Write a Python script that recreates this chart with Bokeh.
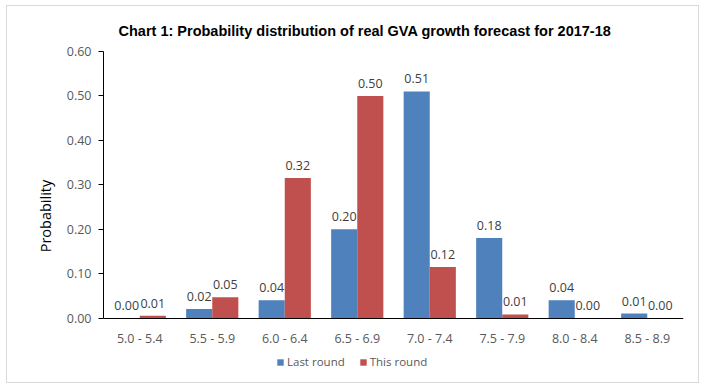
from bokeh.plotting import figure
from bokeh.models import ColumnDataSource, FactorRange, Range1d, LabelSet, Legend, LegendItem, NumeralTickFormatter, FixedTicker
from bokeh.core.properties import value
from bokeh.transform import dodge
from bokeh.embed import file_html
from bokeh.resources import INLINE

categories = ["5.0 - 5.4", "5.5 - 5.9", "6.0 - 6.4", "6.5 - 6.9", "7.0 - 7.4", "7.5 - 7.9", "8.0 - 8.4", "8.5 - 8.9"]
last_round = [0.0, 0.02, 0.04, 0.20, 0.51, 0.18, 0.04, 0.01]
this_round = [0.005, 0.047, 0.315, 0.50, 0.115, 0.008, 0.0, 0.0]
y_ticks = [0.0, 0.1, 0.2, 0.3, 0.4, 0.5, 0.6]

BLUE = "#4f81bd"
RED = "#c0504d"
FONT = "Open Sans"

src = ColumnDataSource(dict(
    cat=categories,
    last=last_round,
    this=this_round,
    last_lbl=["%.2f" % v for v in last_round],
    this_lbl=["%.2f" % v for v in this_round],
))

p = figure(x_range=FactorRange(*categories, range_padding=0), y_range=Range1d(-0.1407, 0.6),
           width=693, height=378, output_backend="svg", toolbar_location=None,
           min_border_left=96, min_border_right=17, min_border_top=45, min_border_bottom=4)
p.styles = {"border": "1px solid #d9d9d9", "margin-left": "6px", "margin-top": "5px"}

p.title.text = "Chart 1: Probability distribution of  real GVA growth  forecast for 2017-18"
p.title.align = "left"
p.title.offset = 15
p.title.text_font = "Liberation Sans"
p.title.text_font_size = "14.5px"
p.title.text_font_style = "bold"
p.title.text_color = "#000000"
p.title.standoff = 25

w = 0.36
r1 = p.vbar(x=dodge("cat", -0.18, range=p.x_range), top="last", width=w, source=src,
            fill_color=BLUE, line_color=None)
r2 = p.vbar(x=dodge("cat", 0.18, range=p.x_range), top="this", width=w, source=src,
            fill_color=RED, line_color=None)

for col, off in (("last", -0.18), ("this", 0.18)):
    lbl = LabelSet(x=dodge("cat", off, range=p.x_range), y=col, text=col + "_lbl", source=src,
                   text_align="center", text_baseline="bottom", y_offset=8,
                   text_font=value(FONT), text_font_size="12.5px", text_color="#404040")
    p.add_layout(lbl)

p.xgrid.visible = False
p.ygrid.visible = False
p.outline_line_color = None

p.yaxis.ticker = FixedTicker(ticks=y_ticks)
p.yaxis.bounds = (0, 0.6)
p.yaxis.formatter = NumeralTickFormatter(format="0.00")
p.yaxis.axis_label = "Probability"
p.yaxis.axis_label_text_font = FONT
p.yaxis.axis_label_text_font_size = "14.5px"
p.yaxis.axis_label_text_font_style = "normal"
p.yaxis.axis_label_text_color = "#000000"
p.yaxis.axis_label_standoff = 9
p.yaxis.major_label_text_font = FONT
p.yaxis.major_label_text_font_size = "12.5px"
p.yaxis.major_label_text_color = "#595959"
p.yaxis.major_label_standoff = 7
p.yaxis.major_tick_out = 5
p.yaxis.major_tick_in = 0
p.yaxis.minor_tick_out = 0
p.yaxis.minor_tick_in = 0
p.yaxis.axis_line_color = "#000000"
p.yaxis.major_tick_line_color = "#000000"

p.xaxis.fixed_location = 0
p.xaxis.major_label_text_font = FONT
p.xaxis.major_label_text_font_size = "12.5px"
p.xaxis.major_label_text_color = "#595959"
p.xaxis.major_label_standoff = 6
p.xaxis.major_tick_line_color = None
p.xaxis.axis_line_color = "#000000"

legend = Legend(items=[LegendItem(label="Last round", renderers=[r1]),
                       LegendItem(label="This round", renderers=[r2])],
                orientation="horizontal", location=(173, 11),
                glyph_width=8, glyph_height=8, label_standoff=3, spacing=14,
                label_text_font=FONT, label_text_font_size="11.5px", label_text_color="#595959",
                background_fill_alpha=0, border_line_color=None, padding=0, margin=0)
p.add_layout(legend, "center")

open("out.html", "w").write(file_html(p, INLINE))
